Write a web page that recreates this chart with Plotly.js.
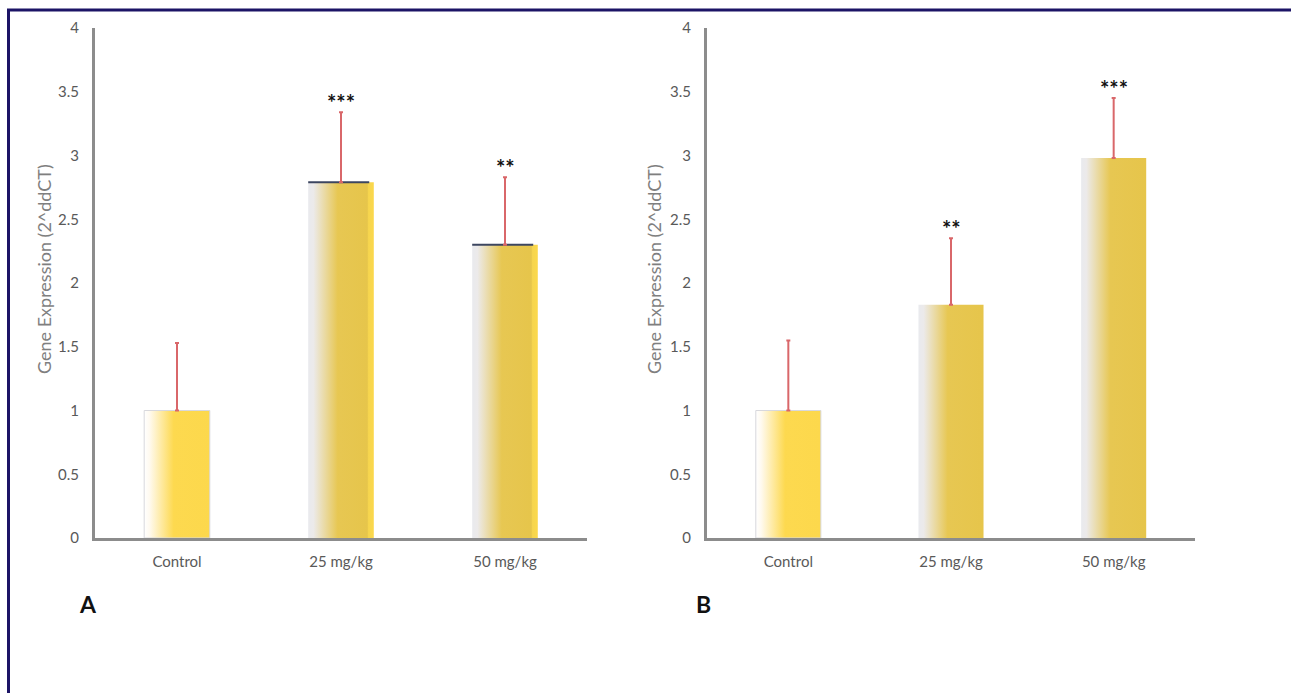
<!DOCTYPE html>
<html>
<head>
<meta charset="utf-8">
<script src="https://cdn.plot.ly/plotly-3.0.1.min.js"></script>
<style>
html,body{margin:0;padding:0;background:#fff;}
#chart{width:1291px;height:693px;}
</style>
</head>
<body>
<div id="chart"></div>
<script>
// ---- data ----
const categories = ['Control', '25 mg/kg', '50 mg/kg'];
const valuesA = [1.0, 2.79, 2.30];
const errorsA = [0.53, 0.55, 0.53];
const starsA = ['', '***', '**'];
const valuesB = [1.0, 1.83, 2.98];
const errorsB = [0.55, 0.52, 0.47];
const starsB = ['', '**', '***'];
const yTicks = [0, 0.5, 1, 1.5, 2, 2.5, 3, 3.5, 4];
const yTickLabels = ['0', '0.5', '1', '1.5', '2', '2.5', '3', '3.5', '4'];
const yTitle = 'Gene Expression (2^ddCT)';
const panelLabels = ['A', 'B'];

const W = 1291, H = 693;
const px = v => v / W;
const py = v => 1 - v / H;

function barTrace(vals, errs, xa, ya) {
  return {
    type: 'bar',
    x: categories,
    y: vals,
    xaxis: xa,
    yaxis: ya,
    width: 0.4,
    marker: { color: '#f5d24c', line: { width: 0 } },
    error_y: {
      type: 'data', symmetric: false, array: errs,
      arrayminus: vals.map(() => 0),
      color: '#d9676a', thickness: 2, width: 2
    },
    hoverinfo: 'skip',
    showlegend: false
  };
}

const tickFont = { family: 'Lato, "Open Sans", sans-serif', size: 15, color: '#595959' };

function yAxis() {
  return {
    range: [0, 4],
    tickvals: yTicks,
    ticktext: yTickLabels,
    showgrid: false,
    zeroline: false,
    showline: true,
    linecolor: '#8c8c8c',
    linewidth: 3,
    ticks: '',
    ticklabelstandoff: 10,
    tickfont: tickFont,
    domain: [py(538), py(28)],
    fixedrange: true
  };
}
function xAxis(d0, d1, anchor) {
  return {
    domain: [d0, d1],
    range: [-0.5, 2.5],
    anchor: anchor,
    showgrid: false,
    zeroline: false,
    showline: true,
    linecolor: '#8c8c8c',
    linewidth: 3,
    ticks: '',
    tickfont: tickFont,
    ticklabelstandoff: 8,
    fixedrange: true
  };
}

const annotations = [];
function addStars(vals, errs, stars, xr, yr) {
  categories.forEach((c, i) => {
    if (!stars[i]) return;
    annotations.push({
      x: c, y: vals[i] + errs[i], xref: xr, yref: yr,
      text: stars[i], showarrow: false,
      yanchor: 'bottom', yshift: -6,
      font: { family: 'Lato, "DejaVu Sans", sans-serif', size: 22, color: '#111', weight: 'bold' }
    });
  });
}
addStars(valuesA, errorsA, starsA, 'x', 'y');
addStars(valuesB, errorsB, starsB, 'x2', 'y2');

// axis titles (rotated) and panel letters
[44, 654].forEach(xp => {
  annotations.push({
    x: px(xp), y: py(269), xref: 'paper', yref: 'paper', text: yTitle,
    textangle: -90, showarrow: false, xanchor: 'center', yanchor: 'middle',
    font: { family: 'Lato, "Open Sans", sans-serif', size: 18, color: '#7f7f7f' }
  });
});
[[88, panelLabels[0]], [703, panelLabels[1]]].forEach(([xp, t]) => {
  annotations.push({
    x: px(xp), y: py(604), xref: 'paper', yref: 'paper', text: '<b>' + t + '</b>',
    showarrow: false, xanchor: 'center', yanchor: 'middle',
    font: { family: 'Lato, "Open Sans", sans-serif', size: 23, color: '#111' }
  });
});

const layout = {
  width: W, height: H,
  margin: { l: 0, r: 0, t: 0, b: 0 },
  paper_bgcolor: '#ffffff',
  plot_bgcolor: 'rgba(0,0,0,0)',
  barmode: 'group',
  xaxis: xAxis(px(95), px(587), 'y'),
  yaxis: Object.assign(yAxis(), { anchor: 'x' }),
  xaxis2: xAxis(px(707), px(1195), 'y2'),
  yaxis2: Object.assign(yAxis(), { anchor: 'x2' }),
  annotations: annotations,
  shapes: [
    { type: 'line', xref: 'paper', yref: 'paper', x0: px(7), x1: 1, y0: py(10), y1: py(10), line: { color: '#1c1466', width: 3 } },
    { type: 'line', xref: 'paper', yref: 'paper', x0: px(8.5), x1: px(8.5), y0: 0, y1: py(10), line: { color: '#1c1466', width: 3 } }
  ]
};

const data = [
  barTrace(valuesA, errorsA, 'x', 'y'),
  barTrace(valuesB, errorsB, 'x2', 'y2')
];

Plotly.newPlot('chart', data, layout, { displayModeBar: false, staticPlot: true }).then(gd => {
  const svg = gd.querySelector('.main-svg');
  const NS = 'http://www.w3.org/2000/svg';
  let defs = svg.querySelector('defs');
  if (!defs) { defs = document.createElementNS(NS, 'defs'); svg.insertBefore(defs, svg.firstChild); }
  function grad(id, stops) {
    const g = document.createElementNS(NS, 'linearGradient');
    g.setAttribute('id', id);
    g.setAttribute('x1', '0'); g.setAttribute('x2', '1');
    g.setAttribute('y1', '0'); g.setAttribute('y2', '0');
    stops.forEach(([o, c]) => {
      const s = document.createElementNS(NS, 'stop');
      s.setAttribute('offset', o); s.setAttribute('stop-color', c);
      g.appendChild(s);
    });
    defs.appendChild(g);
  }
  grad('gCtrl', [['0', '#ffffff'], ['0.08', '#fffaf0'], ['0.45', '#fdd94f'], ['1', '#fcd84c']]);
  grad('gDose', [['0', '#e9eaee'], ['0.08', '#eceaea'], ['0.45', '#e7c752'], ['0.9', '#e6c54b'], ['0.92', '#f6d54e'], ['1', '#fbd84c']]);
  grad('gDoseB', [['0', '#e9eaee'], ['0.08', '#eceaea'], ['0.45', '#e7c752'], ['1', '#e6c54b']]);
  const traces = svg.querySelectorAll('.barlayer .trace');
  traces.forEach((t, ti) => {
    t.querySelectorAll('.point path').forEach((p, i) => {
      const id = i === 0 ? 'gCtrl' : (ti === 0 ? 'gDose' : 'gDoseB');
      p.style.fill = 'url(#' + id + ')';
      if (i === 0) { p.style.stroke = '#d8d8dc'; p.style.strokeWidth = '1px'; }
      if (ti === 0 && i > 0) {
        // dark top edge seen on the panel A dose bars
        const b = p.getBBox();
        const ln = document.createElementNS(NS, 'line');
        ln.setAttribute('x1', b.x); ln.setAttribute('x2', b.x + b.width * 0.93);
        ln.setAttribute('y1', b.y); ln.setAttribute('y2', b.y);
        ln.setAttribute('stroke', '#3c4660'); ln.setAttribute('stroke-width', '2');
        p.parentNode.appendChild(ln);
      }
    });
  });
});
</script>
</body>
</html>
